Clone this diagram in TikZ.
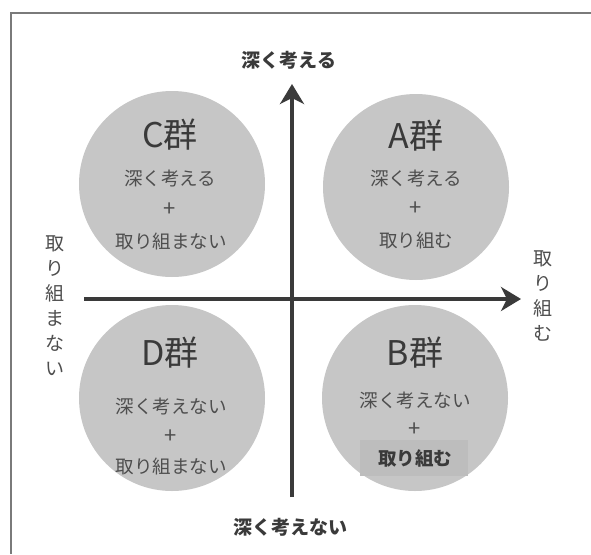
\documentclass[tikz,border=0pt]{standalone}
\usepackage{fontspec}
\setmainfont{Noto Sans CJK JP}
\usetikzlibrary{arrows.meta}
\definecolor{circgray}{HTML}{C6C6C6}
\definecolor{boxgray}{HTML}{BDBDBD}
\definecolor{axisgray}{HTML}{3A3A3A}
\definecolor{framegray}{HTML}{7A7A7A}
\definecolor{titlegray}{HTML}{3A3A3A}
\definecolor{subgray}{HTML}{4E4E4E}
\begin{document}
\begin{tikzpicture}[x=1pt,y=-1pt,
  grp/.style={circle, fill=circgray, minimum size=186pt, inner sep=0pt},
  grptitle/.style={font=\fontsize{34}{34}\selectfont, text=titlegray, inner sep=0pt},
  grpsub/.style={font=\fontsize{18.5}{18.5}\selectfont, text=subgray, inner sep=0pt},
  grpplus/.style={font=\fontsize{22}{22}\selectfont, text=subgray, inner sep=0pt},
  axislabel/.style={font=\fontsize{19}{19}\selectfont\bfseries, text=titlegray, inner sep=0pt},
  sidelabel/.style={font=\fontsize{19}{25}\selectfont, text=subgray, align=center, inner sep=0pt},
  axisline/.style={line width=4.5pt, draw=axisgray, -{Stealth[length=20pt,width=24pt,inset=6pt]}},
  frameline/.style={line width=1.2pt, draw=framegray}]
\useasboundingbox (0,0) rectangle (591,554);
\fill[white] (0,0) rectangle (591,554);
% frame
\coordinate (ftr) at (591,13);
\coordinate (ftl) at (11,13);
\coordinate (fbl) at (11,554);
\draw[frameline] (ftr) -- (ftl) -- (fbl);
% circles
\node[grp] (C) at (172,184) {};
\node[grp] (A) at (416,187) {};
\node[grp] (D) at (172,398) {};
\node[grp] (B) at (415,398) {};
% C
\node[grptitle] (Ct) at (170,135) {C群};
\node[grpsub] (Cs1) at (170,178) {深く考える};
\node[grpplus] (Cp) at (170,210) {+};
\node[grpsub] (Cs2) at (171,241) {取り組まない};
% A
\node[grptitle] (At) at (416,136) {A群};
\node[grpsub] (As1) at (416,178) {深く考える};
\node[grpplus] (Ap) at (416,209) {+};
\node[grpsub] (As2) at (416,240) {取り組む};
% D
\node[grptitle] (Dt) at (170,353) {D群};
\node[grpsub] (Ds1) at (171,406) {深く考えない};
\node[grpplus] (Dp) at (171,437) {+};
\node[grpsub] (Ds2) at (171,466) {取り組まない};
% B
\node[grptitle] (Bt) at (415,353) {B群};
\node[grpsub] (Bs1) at (415,400) {深く考えない};
\node[grpplus] (Bp) at (415,430) {+};
\node[fill=boxgray, minimum width=108pt, minimum height=36pt, inner sep=0pt] (Bbox) at (414,458) {};
\node[grpsub, font=\fontsize{18.5}{18.5}\selectfont\bfseries, text=titlegray] (Bs2) at (415,458) {取り組む};
% axes
\coordinate (vb) at (292,497);
\coordinate (vt) at (292,84);
\coordinate (hl) at (84,299);
\coordinate (hr) at (521,299);
\draw[axisline] (vb) -- (vt);
\draw[axisline] (hl) -- (hr);
% axis labels
\node[axislabel] (top) at (289,60) {深く考える};
\node[axislabel] (bottom) at (290,527) {深く考えない};
\node[sidelabel, anchor=north] (left) at (55,236) {取\\り\\組\\ま\\な\\い};
\node[sidelabel, anchor=north] (right) at (543,251) {取\\り\\組\\む};
\end{tikzpicture}
\end{document}
